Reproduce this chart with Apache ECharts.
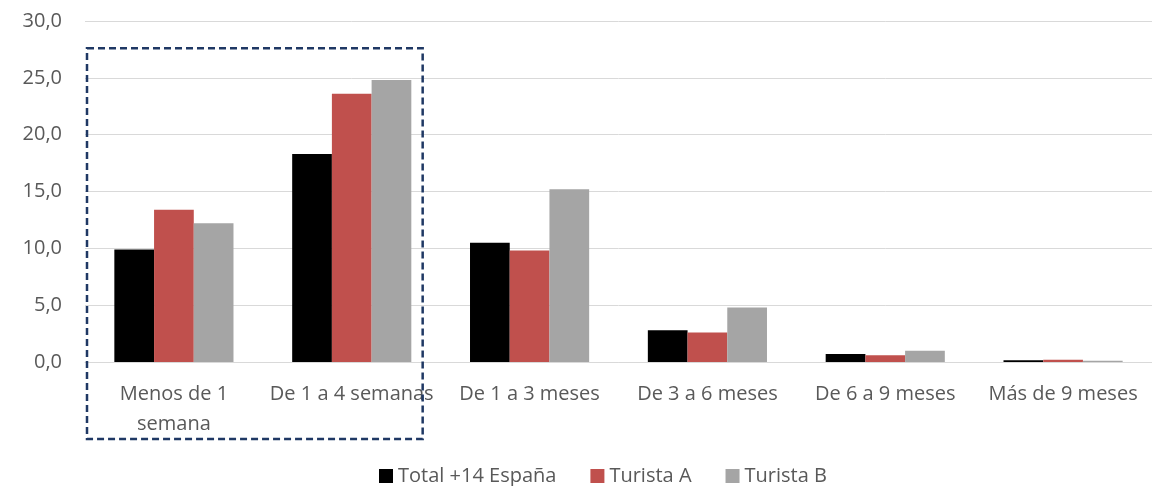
<!DOCTYPE html>
<html>
<head>
<meta charset="utf-8">
<script src="https://cdn.jsdelivr.net/npm/echarts@6/dist/echarts.min.js"></script>
<style>
  html, body { margin: 0; padding: 0; background: #fff; }
  #chart { width: 1152px; height: 486px; }
</style>
</head>
<body>
<div id="chart"></div>
<script>
  // categorías (duración del viaje)
  const categories = ['Menos de 1\nsemana', 'De 1 a 4 semanas', 'De 1 a 3 meses', 'De 3 a 6 meses', 'De 6 a 9 meses', 'Más de 9 meses'];
  const seriesNames = ['Total +14 España', 'Turista A', 'Turista B'];
  const totalEspana = [9.9, 18.3, 10.5, 2.8, 0.7, 0.15];
  const turistaA = [13.4, 23.6, 9.8, 2.6, 0.6, 0.2];
  const turistaB = [12.2, 24.8, 15.2, 4.8, 1.0, 0.1];
  const colors = ['#000000', '#c0504d', '#a5a5a5'];

  const chart = echarts.init(document.getElementById('chart'));
  const font = '"Open Sans", Lato, sans-serif';

  const option = {
    animation: false,
    color: colors,
    textStyle: { fontFamily: font },
    // el área de trazado del original sale un poco por la derecha
    grid: { left: 85, right: -11, top: 21, bottom: 124 },
    legend: {
      top: 461,
      left: 374,
      itemWidth: 14,
      itemHeight: 14,
      itemGap: 34,
      icon: 'rect',
      textStyle: { fontSize: 20, color: '#595959', fontFamily: font },
      data: seriesNames
    },
    xAxis: {
      type: 'category',
      data: categories,
      axisTick: { show: false },
      axisLine: { lineStyle: { color: '#d9d9d9', width: 1 } },
      axisLabel: {
        interval: 0,
        margin: 17,
        fontSize: 20,
        color: '#595959',
        lineHeight: 30,
        fontFamily: font
      }
    },
    yAxis: {
      type: 'value',
      min: 0,
      max: 30,
      interval: 5,
      axisLine: { show: false },
      axisTick: { show: false },
      splitLine: { lineStyle: { color: '#d9d9d9', width: 1 } },
      axisLabel: {
        fontSize: 20,
        color: '#595959',
        margin: 23,
        fontFamily: font,
        formatter: v => v.toFixed(1).replace('.', ',')
      }
    },
    series: [
      { name: seriesNames[0], type: 'bar', data: totalEspana, barGap: '0%', barCategoryGap: '33%' },
      { name: seriesNames[1], type: 'bar', data: turistaA, barGap: '0%', barCategoryGap: '33%' },
      { name: seriesNames[2], type: 'bar', data: turistaB, barGap: '0%', barCategoryGap: '33%' }
    ]
  };
  chart.setOption(option);

  // recuadro discontinuo sobre las dos primeras categorías
  const p0 = chart.convertToPixel({ xAxisIndex: 0 }, 0);
  const p1 = chart.convertToPixel({ xAxisIndex: 0 }, 1);
  const half = (p1 - p0) / 2;
  const boxLeft = p0 - half + 2;
  const boxRight = p1 + half - 18;
  const boxTop = chart.convertToPixel({ yAxisIndex: 0 }, 27.6);
  chart.setOption({
    graphic: [{
      type: 'rect',
      z: 100,
      shape: { x: boxLeft, y: boxTop, width: boxRight - boxLeft, height: 439 - boxTop },
      style: { fill: 'none', stroke: '#1f3864', lineWidth: 2.5, lineDash: [7, 4] }
    }]
  });
</script>
</body>
</html>
